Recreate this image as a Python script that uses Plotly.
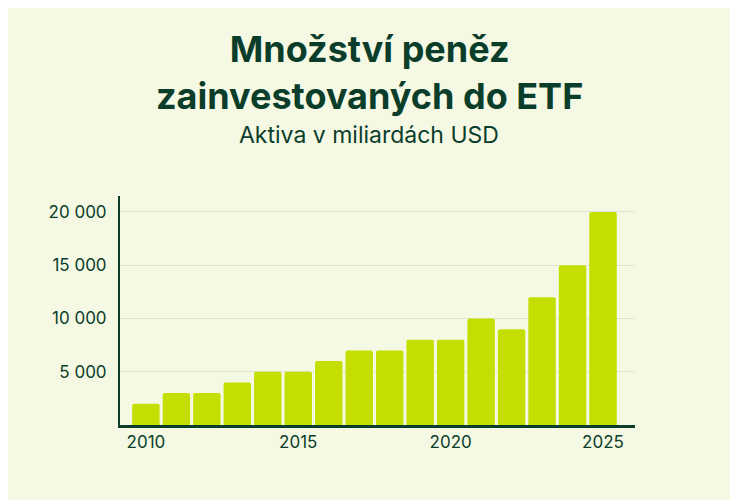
import plotly.graph_objects as go

# ETF assets, billions USD
years = list(range(2010, 2026))
assets = [2000, 3000, 3000, 4000, 5000, 5000, 6000, 7000,
          7000, 8000, 8000, 10000, 9000, 12000, 15000, 20000]

y_ticks = [5000, 10000, 15000, 20000]
y_labels = ["5 000", "10 000", "15 000", "20 000"]
x_ticks = [2010, 2015, 2020, 2025]

title_1 = "Množství peněz"
title_2 = "zainvestovaných do ETF"
subtitle = "Aktiva v miliardách USD"

bg = "#F5F9E4"
dark = "#0B3D2B"
bar_col = "#C4DE00"
fnt = "Inter"

fig = go.Figure()
fig.add_trace(go.Bar(x=years, y=assets, marker_color=bar_col,
                     marker_line_width=0, marker_cornerradius=2,
                     hoverinfo="x+y"))

fig.update_layout(
    width=738, height=500,
    paper_bgcolor=bg, plot_bgcolor=bg,
    margin=dict(l=112, r=111, t=188, b=83),
    bargap=0.1,
    showlegend=False,
    font=dict(family=fnt, color=dark),
)

fig.update_xaxes(
    range=[2009.15, 2026.05],
    tickvals=x_ticks, ticks="", showgrid=False,
    showline=True, linecolor=dark, linewidth=2.5,
    tickfont=dict(size=17, color=dark),
)
fig.update_yaxes(
    range=[0, 21500],
    tickvals=y_ticks, ticktext=y_labels, ticks="",
    showgrid=True, gridcolor="#DFE2D2", gridwidth=1,
    zeroline=False,
    showline=True, linecolor=dark, linewidth=2,
    ticklabelstandoff=8,
    tickfont=dict(size=17, color=dark),
)

cx = 0.4835
# two-line title in one annotation so the lines don't collide
fig.add_annotation(text="<b>" + title_1 + "<br>" + title_2 + "</b>",
                   xref="paper", yref="paper",
                   x=cx, y=1.539, xanchor="center", yanchor="middle",
                   showarrow=False, font=dict(size=36, color=dark, family=fnt))
fig.add_annotation(text=subtitle, xref="paper", yref="paper",
                   x=cx, y=1.268, xanchor="center", yanchor="middle",
                   showarrow=False, font=dict(size=23, color=dark, family=fnt))

fig.write_html("out.html")
